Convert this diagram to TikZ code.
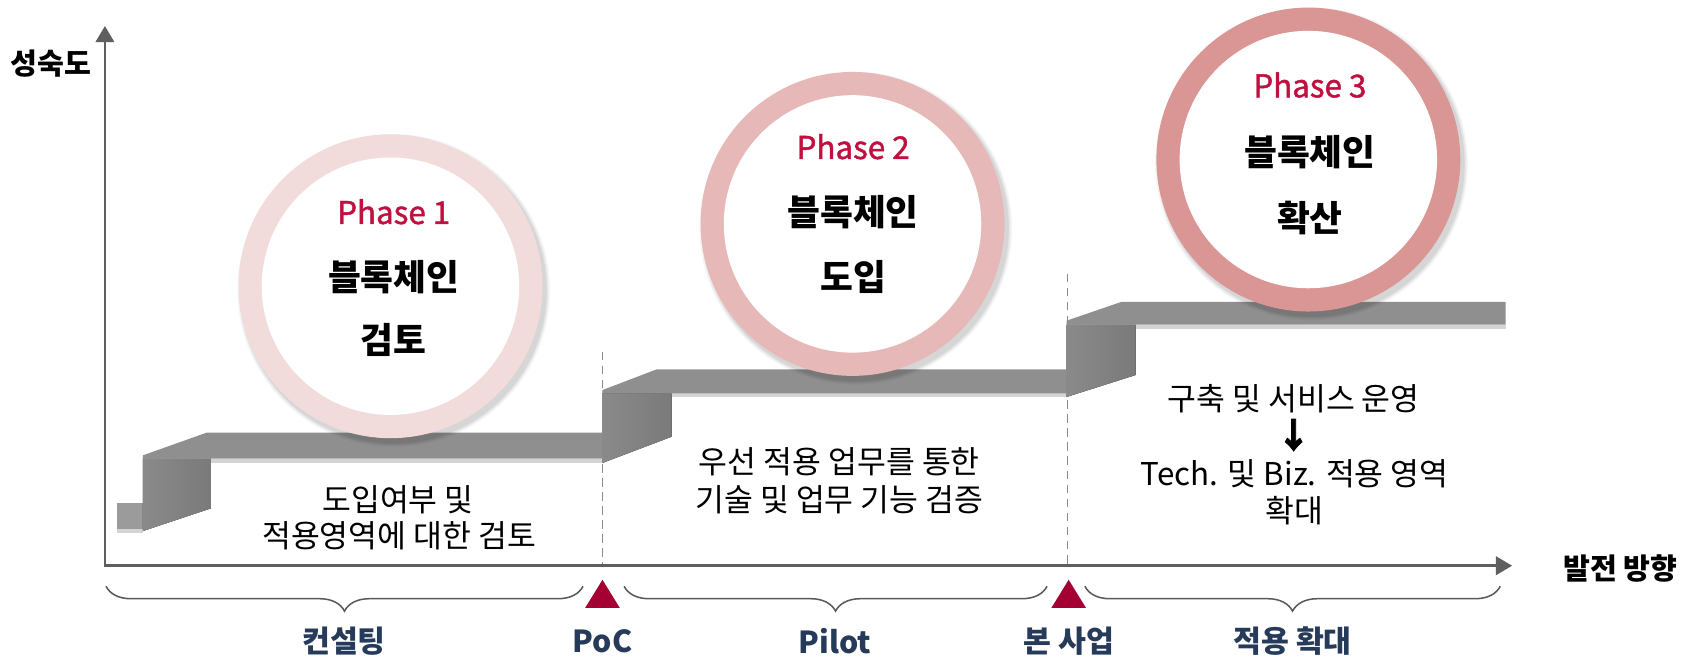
\documentclass[tikz,border=0pt]{standalone}
\usepackage{fontspec}
\newfontfamily\kr{Noto Sans CJK KR}
\newfontfamily\krmed[FakeBold=1.4]{Noto Sans CJK KR}
\newfontfamily\krarrow[FakeBold=2.5]{Noto Sans CJK KR}
\usetikzlibrary{arrows.meta,decorations.pathreplacing}
\definecolor{axisgray}{HTML}{5F5F5F}
\definecolor{bandgray}{HTML}{8F8F8F}
\definecolor{riserL}{HTML}{8A8A8A}
\definecolor{riserR}{HTML}{7A7A7A}
\definecolor{stubgray}{HTML}{9B9B9B}
\definecolor{shadegray}{HTML}{D4D4D4}
\definecolor{ringA}{HTML}{F2DCDB}
\definecolor{ringB}{HTML}{E6B9B8}
\definecolor{ringC}{HTML}{D99694}
\definecolor{phasered}{HTML}{C0103F}
\definecolor{markred}{HTML}{A50034}
\definecolor{navy}{HTML}{263B5A}
\definecolor{dashgray}{HTML}{8A8A8A}
\definecolor{bracegray}{HTML}{595959}
\begin{document}
\begin{tikzpicture}[x=0.5pt,y=-0.5pt,
  every node/.style={inner sep=0pt, outer sep=0pt},
  ph/.style={font=\krmed\fontsize{14.5}{17}\selectfont, text=phasered},
  ct/.style={font=\kr\bfseries\fontsize{16.5}{20}\selectfont, text=black},
  desc/.style={font=\kr\fontsize{14.5}{17}\selectfont, text=black},
  lab/.style={font=\kr\bfseries\fontsize{14}{16}\selectfont, text=navy},
  axl/.style={font=\kr\bfseries\fontsize{13.5}{16}\selectfont, text=black},
  axisline/.style={draw=axisgray, line width=1.3pt, -{Triangle[length=7.5pt,width=8.5pt]}},
  guide/.style={draw=dashgray, line width=0.6pt, dash pattern=on 4pt off 2.5pt},
  brc/.style={draw=bracegray, line width=0.7pt, decorate, decoration={brace, mirror, amplitude=11.5pt}},
  ring/.style={circle, minimum size=140.5pt},
  hole/.style={circle, fill=white, minimum size=119pt},
  riser/.style={left color=riserL, right color=riserR},
  band/.style={fill=bandgray},
  shade/.style={fill=shadegray},
  marker/.style={fill=markred}
]
\useasboundingbox (0,0) rectangle (1568,612);
\fill[white] (0,0) rectangle (1568,612);

% ---------- staircase ----------
% level 0 stub
\fill[shade] (108,489) rectangle (132,493);
\fill[stubgray] (108,465) rectangle (132,489);
% step 1
\fill[riser] (132,424) -- (195,424) -- (195,470) -- (132,491) -- cycle;
\fill[shade] (195,424) rectangle (558,428.5);
\fill[band] (132,421) -- (191,400) -- (558,400) -- (558,424) -- (132,424) -- cycle;
% step 2
\fill[riser] (557,363.7) -- (621,363.7) -- (621,403.7) -- (557,428) -- cycle;
\fill[shade] (621,363.7) rectangle (987,367.3);
\fill[band] (557,360.6) -- (607,341.5) -- (987,341.5) -- (987,363.7) -- (557,363.7) -- cycle;
% step 3
\fill[riser] (986,300) -- (1050,300) -- (1050,346.7) -- (986,367) -- cycle;
\fill[shade] (1050,300) rectangle (1392,304);
\fill[band] (986,296.5) -- (1037,279) -- (1392,279) -- (1392,300) -- (986,300) -- cycle;

% ---------- dashed guides ----------
\coordinate (g1t) at (557,325);
\coordinate (g1b) at (557,523);
\coordinate (g2t) at (987,253);
\coordinate (g2b) at (987,523);
\draw[guide] (g1t) -- (g1b);
\draw[guide] (g2t) -- (g2b);

% ---------- circles ----------
\foreach \cx/\cy in {361/264.6, 788.2/207, 1209.6/147.5}{
  \fill[black, opacity=0.07] (\cx+3,\cy+4) circle (141.5);
  \fill[black, opacity=0.06] (\cx+3,\cy+4) circle (143);
  \fill[black, opacity=0.04] (\cx+3,\cy+4) circle (144.5);
}
\node[ring, fill=ringA] (c1) at (361,264.6) {};
\node[hole] (h1) at (c1) {};
\node[ring, fill=ringB] (c2) at (788.2,207) {};
\node[hole] (h2) at (c2) {};
\node[ring, fill=ringC] (c3) at (1209.6,147.5) {};
\node[hole] (h3) at (c3) {};

\node[ph] (p1) at (364,195.7) {Phase 1};
\node[ct] (t1a) at (364,255.8) {블록체인};
\node[ct] (t1b) at (364,314.3) {검토};
\node[ph] (p2) at (788.7,135.6) {Phase 2};
\node[ct] (t2a) at (788.7,195.7) {블록체인};
\node[ct] (t2b) at (788.7,255.8) {도입};
\node[ph] (p3) at (1211,78.6) {Phase 3};
\node[ct] (t3a) at (1211,140.2) {블록체인};
\node[ct] (t3b) at (1211,201.9) {확산};

% ---------- descriptions ----------
\node[desc] (d1a) at (368,462) {도입여부 및};
\node[desc] (d1b) at (369,495) {적용영역에 대한 검토};
\node[desc] (d2a) at (776,427) {우선 적용 업무를 통한};
\node[desc] (d2b) at (776,462) {기술 및 업무 기능 검증};
\node[desc] (d3a) at (1196,368.3) {구축 및 서비스 운영};
\node[desc, font=\krarrow\bfseries\fontsize{16}{18}\selectfont] (d3arr) at (1196,402.2) {↓};
\node[desc] (d3b) at (1197,437.6) {Tech. 및 Biz. 적용 영역};
\node[desc] (d3c) at (1197,472) {확대};

% ---------- axes ----------
\coordinate (o) at (97,524);
\coordinate (ytip) at (97,24);
\coordinate (xs) at (96,523);
\coordinate (xtip) at (1398,523);
\draw[axisline] (o) -- (ytip);
\draw[axisline] (xs) -- (xtip);
\node[axl] (ylab) at (47,59) {성숙도};
\node[axl] (xlab) at (1498,525.5) {발전 방향};

% ---------- braces ----------
\coordinate (b1l) at (98,542);
\coordinate (b1r) at (539,542);
\coordinate (b2l) at (577,542);
\coordinate (b2r) at (968,542);
\coordinate (b3l) at (1003,542);
\coordinate (b3r) at (1387,542);
\draw[brc] (b1l) -- (b1r);
\draw[brc] (b2l) -- (b2r);
\draw[brc] (b3l) -- (b3r);

% ---------- milestone markers ----------
\fill[marker] (557,536) -- (573,562) -- (541,562) -- cycle;
\fill[marker] (988,536) -- (1004,562) -- (972,562) -- cycle;

% ---------- bottom labels ----------
\node[lab] (l1) at (318,593) {컨설팅};
\node[lab] (l2) at (557,593) {PoC};
\node[lab] (l3) at (772,593) {Pilot};
\node[lab] (l4) at (988,593) {본 사업};
\node[lab] (l5) at (1195,593) {적용 확대};
\end{tikzpicture}
\end{document}
